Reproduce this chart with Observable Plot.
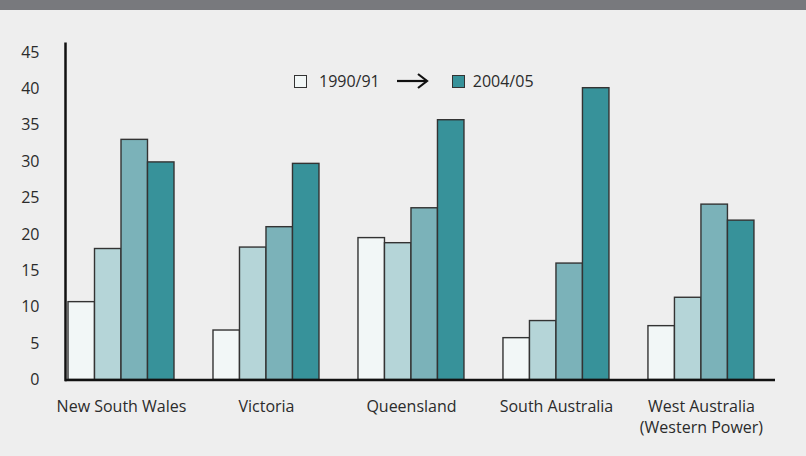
<!DOCTYPE html>
<html>
<head>
<meta charset="utf-8">
<script src="https://cdn.jsdelivr.net/npm/d3@7"></script>
<script src="https://cdn.jsdelivr.net/npm/@observablehq/plot@0.6"></script>
<style>
  html, body { margin: 0; padding: 0; background: #eeeeee; }
  body { width: 806px; height: 456px; position: relative; overflow: hidden; font-family: "Open Sans", sans-serif; }
  #band { height: 10px; background: #78797d; }
  #legend { position: absolute; left: 294px; top: 70px; display: flex; align-items: center; font-size: 16px; color: #2b2b2b; }
  .sw { width: 11px; height: 11px; border: 1.5px solid #333; display: inline-block; }
</style>
</head>
<body>
<div id="band"></div>
<div id="chart"></div>
<div id="legend">
  <span class="sw" style="background:#f2f7f7"></span>
  <span style="margin-left:12px">1990/91</span>
  <svg width="32" height="18" style="margin-left:17px" viewBox="0 0 32 18">
    <line x1="0" y1="9" x2="30" y2="9" stroke="#111" stroke-width="2.2"/>
    <polyline points="21,2 30,9 21,16" fill="none" stroke="#111" stroke-width="2.2"/>
  </svg>
  <span class="sw" style="background:#37929a; margin-left:23px"></span>
  <span style="margin-left:8px">2004/05</span>
</div>
<script>
const regions = ["New South Wales", "Victoria", "Queensland", "South Australia", "West Australia\n(Western Power)"];
const seriesKeys = ["1990/91", "stage 2", "stage 3", "2004/05"];
const values1990 = [10.7, 6.8, 19.5, 5.75, 7.4];
const valuesStage2 = [18.0, 18.2, 18.8, 8.1, 11.3];
const valuesStage3 = [33.0, 21.0, 23.6, 16.0, 24.1];
const values2004 = [29.9, 29.7, 35.7, 40.1, 21.9];
const yTicks = [0, 5, 10, 15, 20, 25, 30, 35, 40, 45];
const colors = ["#f2f7f7", "#b5d5d8", "#7bb2b9", "#37929a"];

const seriesValues = [values1990, valuesStage2, valuesStage3, values2004];
const table = regions.map((r, j) => {
  const row = {region: r};
  seriesKeys.forEach((k, i) => row[k] = seriesValues[i][j]);
  return row;
});

const W = 806, H = 446;
const marginLeft = 65, marginRight = 31;
const padInner = 0.269, padOuter = 0.083, align = 0.125;
const step = (W - marginLeft - marginRight) / (regions.length - padInner + 2 * padOuter);
const bw = step * (1 - padInner);
const sub = bw / seriesKeys.length;

const bars = seriesKeys.map((k, i) => Plot.barY(table, {
  x: "region", y: k, fill: colors[i], stroke: "#333", strokeWidth: 1.4,
  insetLeft: i * sub, insetRight: (seriesKeys.length - 1 - i) * sub
}));

const chart = Plot.plot({
  width: W, height: H,
  marginLeft, marginRight, marginTop: 33.3, marginBottom: 76.5,
  style: {fontFamily: "Open Sans", background: "transparent", fontSize: "16px", color: "#2b2b2b"},
  x: {domain: regions, paddingInner: padInner, paddingOuter: padOuter, align, round: false, label: null},
  y: {domain: [0, 46.2], label: null},
  marks: [
    ...bars,
    Plot.axisY({ticks: yTicks, tickSize: 0, tickPadding: 26, fontSize: 16, label: null}),
    Plot.axisX({tickSize: 0, tickPadding: 17, fontSize: 16, lineHeight: 1.3, label: null}),
    Plot.ruleY([0], {stroke: "#111", strokeWidth: 2.5}),
    Plot.frame({anchor: "left", stroke: "#111", strokeWidth: 2.5})
  ]
});
document.getElementById("chart").appendChild(chart);
</script>
</body>
</html>
